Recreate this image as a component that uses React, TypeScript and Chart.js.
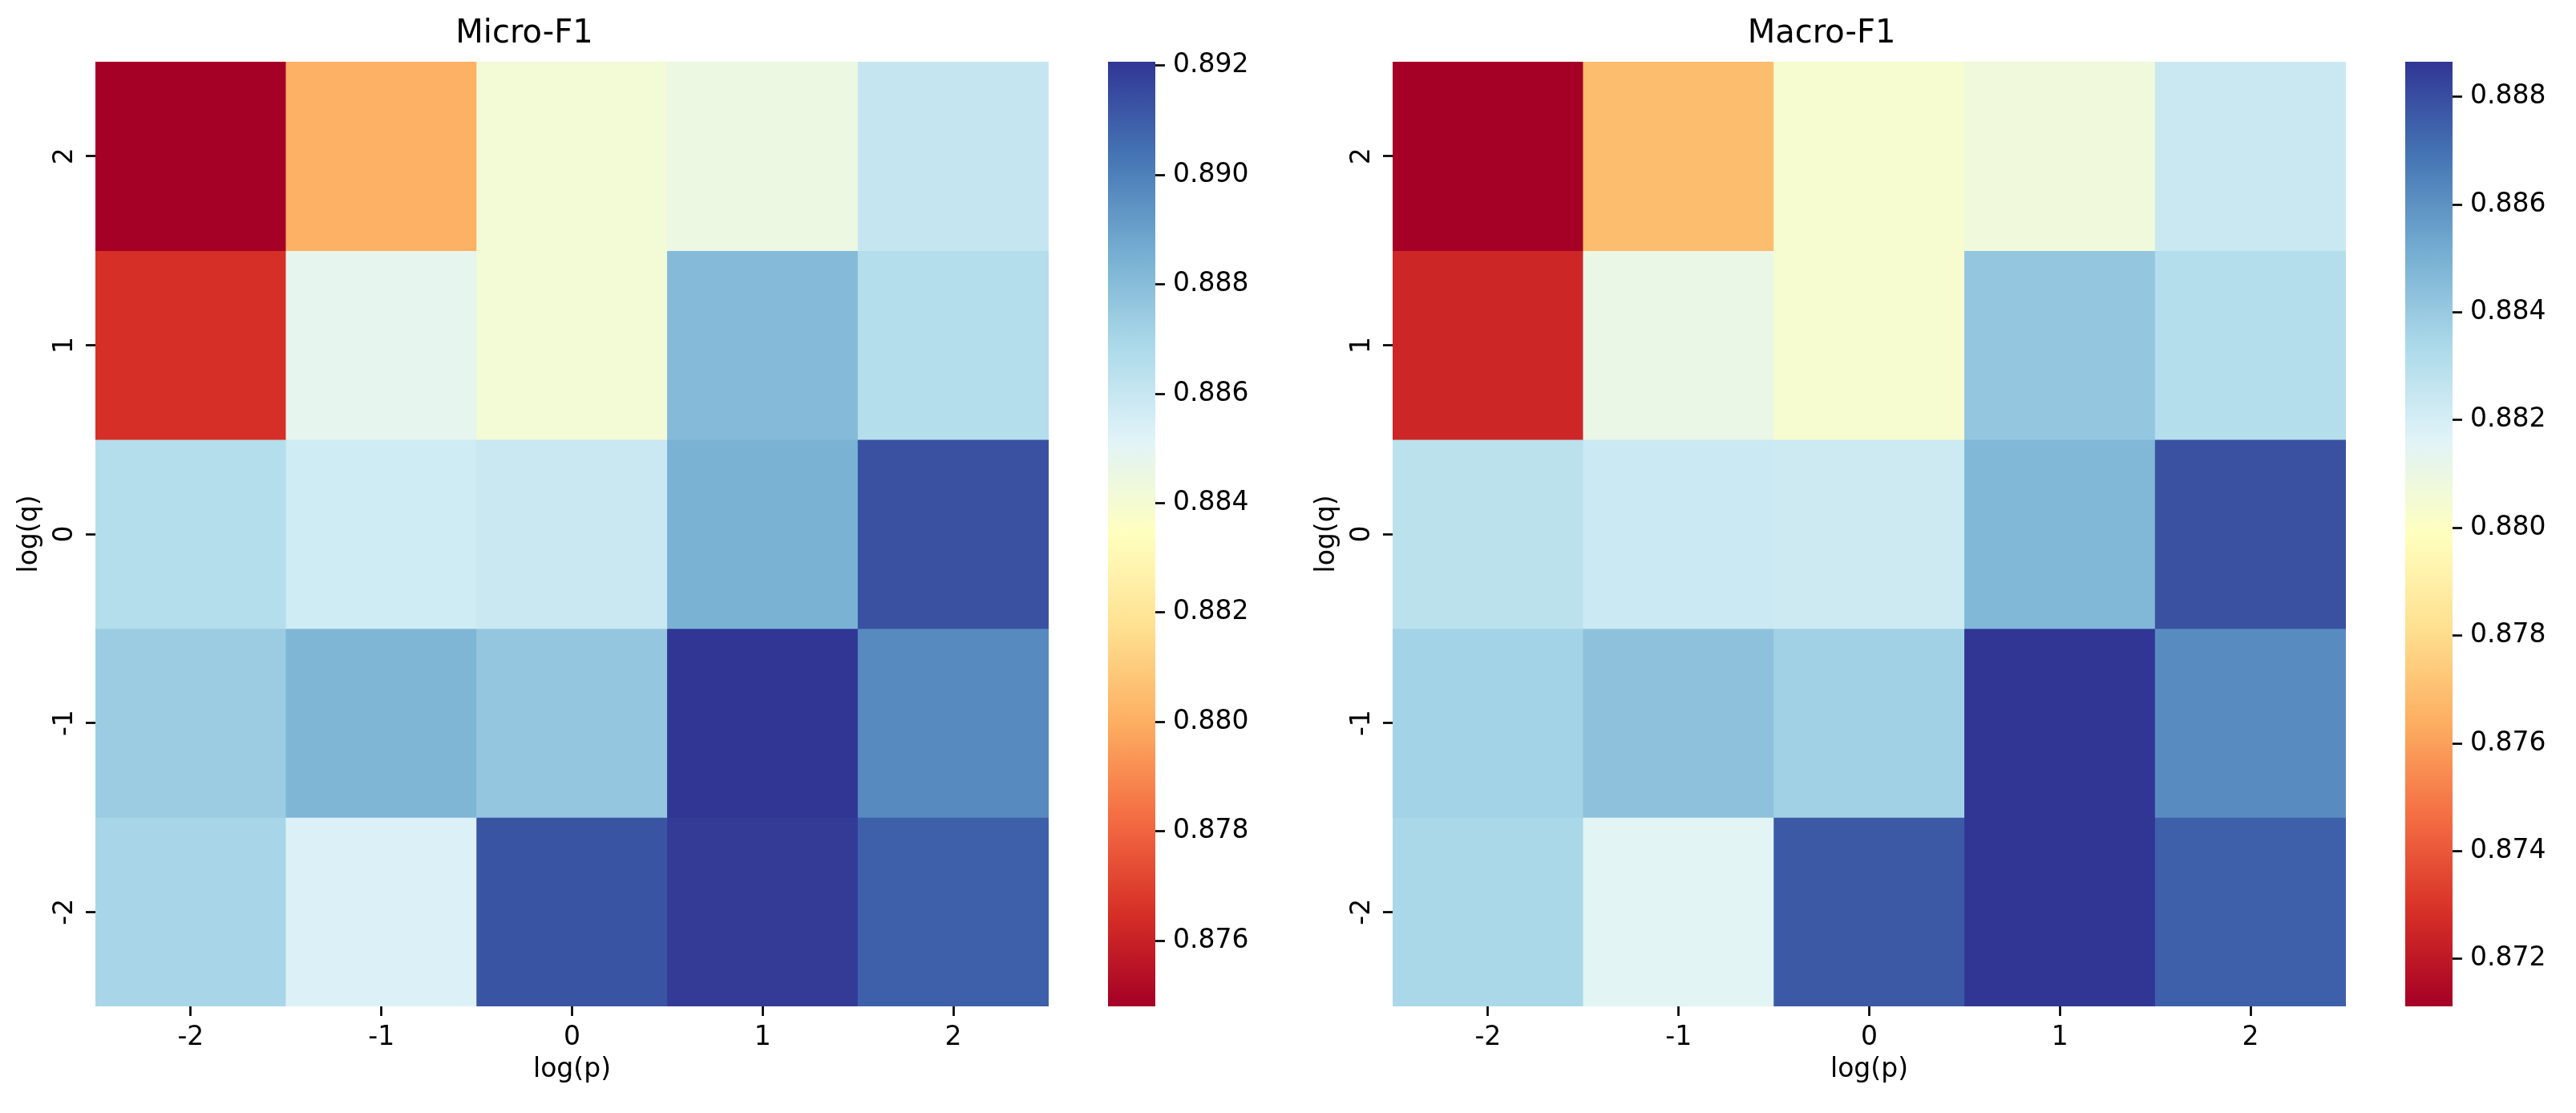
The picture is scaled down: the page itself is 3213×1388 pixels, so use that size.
import React, { useEffect, useRef } from "react";
import { Chart, registerables } from "chart.js";

Chart.register(...registerables);

// Grid axes: columns are log(p), rows (top to bottom) are log(q)
const logP = ["-2", "-1", "0", "1", "2"];
const logQ = [2, 1, 0, -1, -2];

// Micro-F1 per row of log(q), columns ordered as logP
const microQ2 = [0.8748, 0.88008, 0.88416, 0.88449, 0.886];
const microQ1 = [0.87653, 0.88481, 0.88412, 0.88804, 0.88659];
const microQ0 = [0.88659, 0.88571, 0.8859, 0.88842, 0.89129];
const microQm1 = [0.88739, 0.88827, 0.88761, 0.89207, 0.88968];
const microQm2 = [0.88701, 0.8853, 0.8912, 0.89189, 0.89086];

// Macro-F1 per row of log(q)
const macroQ2 = [0.87112, 0.87694, 0.88039, 0.88073, 0.88239];
const macroQ1 = [0.87249, 0.88108, 0.88039, 0.88413, 0.88309];
const macroQ0 = [0.88287, 0.88234, 0.88225, 0.88472, 0.88786];
const macroQm1 = [0.88365, 0.88432, 0.88371, 0.88865, 0.88614];
const macroQm2 = [0.88339, 0.88146, 0.88763, 0.8886, 0.88742];

const microTicks = [0.876, 0.878, 0.88, 0.882, 0.884, 0.886, 0.888, 0.89, 0.892];
const macroTicks = [0.872, 0.874, 0.876, 0.878, 0.88, 0.882, 0.884, 0.886, 0.888];

// RdYlBu colormap anchors (low -> high)
const RDYLBU = [
  "#a50026", "#d73027", "#f46d43", "#fdae61", "#fee090", "#ffffbf",
  "#e0f3f8", "#abd9e9", "#74add1", "#4575b4", "#313695",
];

const FONT = "'DejaVu Sans', 'Liberation Sans', sans-serif";
const TICK_FONT = { family: FONT, size: 33 };
const TITLE_FONT = { family: FONT, size: 40, weight: "normal" as const };

Chart.defaults.color = "#000";

function hexToRgb(h: string): number[] {
  const n = parseInt(h.slice(1), 16);
  return [(n >> 16) & 255, (n >> 8) & 255, n & 255];
}

const ANCHORS = RDYLBU.map(hexToRgb);

function cmap(t: number): string {
  // 256-entry lookup like matplotlib's colormap
  const idx = Math.min(255, Math.max(0, Math.floor(t * 256)));
  const u = idx / 255;
  const pos = u * (ANCHORS.length - 1);
  const i = Math.min(ANCHORS.length - 2, Math.floor(pos));
  const f = pos - i;
  const a = ANCHORS[i];
  const b = ANCHORS[i + 1];
  const c = a.map((v, k) => Math.round(v + (b[k] - v) * f));
  return `rgb(${c[0]},${c[1]},${c[2]})`;
}

const tickGrid = {
  drawOnChartArea: false,
  drawTicks: true,
  tickLength: 12,
  tickWidth: 2.7,
  tickColor: "#000",
};

type HeatProps = {
  title: string;
  rows: number[][];
  left: number;
};

function Heatmap({ title, rows, left }: HeatProps) {
  const ref = useRef<HTMLCanvasElement | null>(null);
  useEffect(() => {
    if (!ref.current) return;
    const all = rows.flat();
    const vmin = Math.min(...all);
    const vmax = Math.max(...all);
    const chart = new Chart(ref.current, {
      type: "bar",
      data: {
        labels: logP,
        datasets: logQ.map((q, r) => ({
          data: logP.map(() => [q - 0.5, q + 0.5] as [number, number]),
          backgroundColor: rows[r].map((v) => cmap((v - vmin) / (vmax - vmin))),
          borderWidth: 0,
          categoryPercentage: 1,
          barPercentage: 1,
          grouped: false,
        })),
      },
      options: {
        responsive: false,
        animation: false,
        events: [],
        layout: { padding: { left: 0, right: 119, top: 0, bottom: 0 } },
        plugins: {
          legend: { display: false },
          tooltip: { enabled: false },
          title: {
            display: true,
            text: title,
            color: "#000",
            font: TITLE_FONT,
            padding: { top: 19, bottom: 10 },
          },
        },
        scales: {
          x: {
            type: "category",
            offset: true,
            grid: { ...tickGrid, offset: false },
            border: { display: false },
            ticks: { color: "#000", font: TICK_FONT, padding: 8, minRotation: 0, maxRotation: 0 },
            title: {
              display: true,
              text: "log(p)",
              color: "#000",
              font: TICK_FONT,
              padding: { top: 0, bottom: 34 },
            },
            afterFit: (s: any) => {
              s.height = 133;
            },
          },
          y: {
            type: "linear",
            min: -2.5,
            max: 2.5,
            afterBuildTicks: (s: any) => {
              s.ticks = logQ.map((v) => ({ value: v }));
            },
            grid: tickGrid,
            border: { display: false },
            ticks: {
              color: "#000",
              font: TICK_FONT,
              padding: 9,
              minRotation: 90,
              maxRotation: 90,
              crossAlign: "center",
              callback: (v: any) => String(v),
            },
            title: {
              display: true,
              text: "log(q)",
              color: "#000",
              font: TICK_FONT,
              padding: { top: 18, bottom: 0 },
            },
            afterFit: (s: any) => {
              s.width = 119;
            },
          },
        },
      },
    } as any);
    return () => chart.destroy();
  }, [title, rows]);
  return (
    <canvas
      ref={ref}
      width={1427}
      height={1388}
      style={{ position: "absolute", left, top: 0, width: 1427, height: 1388 }}
    />
  );
}

type BarProps = {
  rows: number[][];
  ticks: number[];
  left: number;
};

function ColorBar({ rows, ticks, left }: BarProps) {
  const ref = useRef<HTMLCanvasElement | null>(null);
  useEffect(() => {
    if (!ref.current) return;
    const all = rows.flat();
    const vmin = Math.min(...all);
    const vmax = Math.max(...all);
    const chart = new Chart(ref.current, {
      type: "bar",
      data: {
        labels: [""],
        datasets: [
          {
            data: [[vmin, vmax] as [number, number]],
            backgroundColor: (c: any) => {
              const a = c.chart.chartArea;
              if (!a) return RDYLBU[0];
              const g = c.chart.ctx.createLinearGradient(0, a.bottom, 0, a.top);
              RDYLBU.forEach((col, i) => g.addColorStop(i / (RDYLBU.length - 1), col));
              return g;
            },
            borderWidth: 0,
            categoryPercentage: 1,
            barPercentage: 1,
          },
        ],
      },
      options: {
        responsive: false,
        animation: false,
        events: [],
        layout: { padding: { left: 0, right: 0, top: 77, bottom: 133 } },
        plugins: { legend: { display: false }, tooltip: { enabled: false } },
        scales: {
          x: { display: false, offset: true },
          y: {
            type: "linear",
            position: "right",
            min: vmin,
            max: vmax,
            afterBuildTicks: (s: any) => {
              s.ticks = ticks.map((v) => ({ value: v }));
            },
            grid: tickGrid,
            border: { display: false },
            ticks: {
              color: "#000",
              font: TICK_FONT,
              padding: 10,
              callback: (v: any) => Number(v).toFixed(3),
            },
            afterFit: (s: any) => {
              s.width = 141;
            },
          },
        },
      },
    } as any);
    return () => chart.destroy();
  }, [rows, ticks]);
  return (
    <canvas
      ref={ref}
      width={200}
      height={1388}
      style={{ position: "absolute", left, top: 0, width: 200, height: 1388 }}
    />
  );
}

const microRows = [microQ2, microQ1, microQ0, microQm1, microQm2];
const macroRows = [macroQ2, macroQ1, macroQ0, macroQm1, macroQm2];

export default function App() {
  return (
    <div
      style={{
        position: "absolute",
        left: 0,
        top: 0,
        width: 3213,
        height: 1388,
        background: "#fff",
        overflow: "hidden",
      }}
    >
      <Heatmap title="Micro-F1" rows={microRows} left={0} />
      <Heatmap title="Macro-F1" rows={macroRows} left={1618} />
      <ColorBar rows={microRows} ticks={microTicks} left={1382} />
      <ColorBar rows={macroRows} ticks={macroTicks} left={3000} />
    </div>
  );
}
